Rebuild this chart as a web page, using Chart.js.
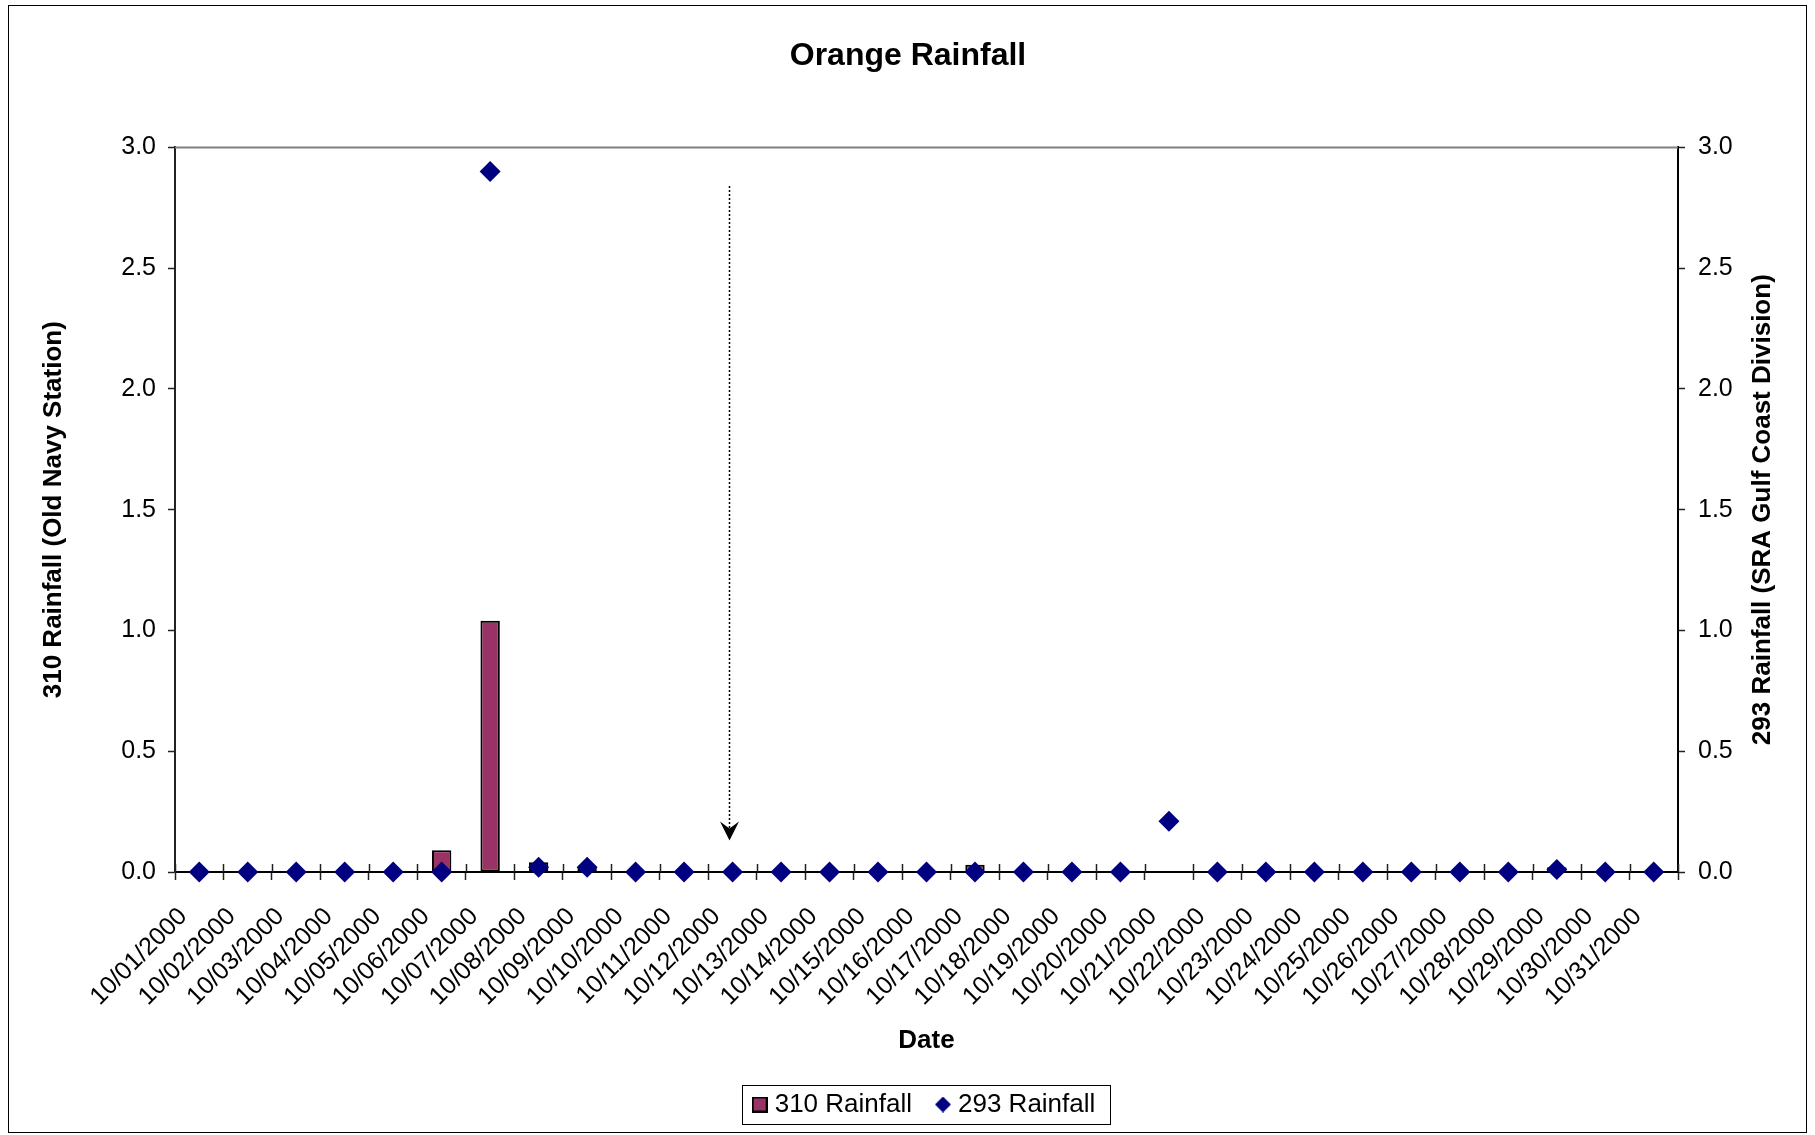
<!DOCTYPE html>
<html lang="en">
<head>
    <meta charset="UTF-8">
    <title>Orange Rainfall</title>
    <style>
        body { margin: 0; background: #fff; }
        canvas { display: block; }
    </style>
</head>
<body>
    <canvas id="grafico" width="1815" height="1135"></canvas>

    <script src="https://cdn.jsdelivr.net/npm/chart.js"></script>
    <script>
        // dati
        const dates = ['10/01/2000', '10/02/2000', '10/03/2000', '10/04/2000', '10/05/2000', '10/06/2000',
            '10/07/2000', '10/08/2000', '10/09/2000', '10/10/2000', '10/11/2000', '10/12/2000',
            '10/13/2000', '10/14/2000', '10/15/2000', '10/16/2000', '10/17/2000', '10/18/2000',
            '10/19/2000', '10/20/2000', '10/21/2000', '10/22/2000', '10/23/2000', '10/24/2000',
            '10/25/2000', '10/26/2000', '10/27/2000', '10/28/2000', '10/29/2000', '10/30/2000', '10/31/2000'];
        const rain310 = [0, 0, 0, 0, 0, 0.09, 1.04, 0.04, 0.02, 0, 0, 0, 0, 0, 0, 0,
            0.03, 0, 0, 0, 0, 0, 0, 0, 0, 0, 0, 0, 0.02, 0, 0];
        const rain293 = [0, 0, 0, 0, 0, 0, 2.90, 0.02, 0.02, 0, 0, 0, 0, 0, 0, 0,
            0, 0, 0, 0, 0.21, 0, 0, 0, 0, 0, 0, 0, 0.01, 0, 0];
        const yMin = 0, yMax = 3.0, yStep = 0.5;
        // freccia tratteggiata (data, spostamento in categorie, valore alto, valore punta)
        const arrowDate = '10/12/2000';
        const arrowShift = -0.07;
        const arrowFrom = 2.84;
        const arrowTo = 0.13;

        const FONT = '"Liberation Sans", Arial, sans-serif';

        // marcatori della legenda
        function makeSquare() {
            const c = document.createElement('canvas');
            c.width = 16; c.height = 16;
            const g = c.getContext('2d');
            g.fillStyle = '#000';
            g.fillRect(0, 0, 16, 16);
            g.fillStyle = '#993366';
            g.fillRect(2, 2, 12, 12);
            return c;
        }
        function makeDiamond() {
            const c = document.createElement('canvas');
            c.width = 16; c.height = 16;
            const g = c.getContext('2d');
            g.fillStyle = '#000080';
            g.beginPath();
            g.moveTo(8, 0); g.lineTo(16, 8); g.lineTo(8, 16); g.lineTo(0, 8);
            g.closePath();
            g.fill();
            return c;
        }
        const legendIcons = [makeSquare(), makeDiamond()];

        const extras = {
            id: 'extras',
            beforeDatasetsDraw(chart) {
                const {ctx, chartArea} = chart;
                ctx.save();
                ctx.strokeStyle = '#808080';
                ctx.lineWidth = 2;
                ctx.beginPath();
                ctx.moveTo(chartArea.left, chartArea.top);
                ctx.lineTo(chartArea.right, chartArea.top);
                ctx.stroke();
                ctx.restore();
            },
            afterDraw(chart) {
                const {ctx, chartArea} = chart;
                const xs = chart.scales.x;
                const ys = chart.scales.y;
                const y1 = chart.scales.y1;
                ctx.save();

                // cornice esterna
                ctx.strokeStyle = '#000';
                ctx.lineWidth = 1;
                ctx.strokeRect(8.5, 5.5, 1798, 1127);

                // tacche verso l'interno sull'asse x
                const step = xs.getPixelForValue(1) - xs.getPixelForValue(0);
                ctx.strokeStyle = '#222';
                ctx.lineWidth = 1.5;
                ctx.beginPath();
                for (let i = 0; i <= dates.length; i++) {
                    const x = Math.round(xs.getPixelForValue(0) - step / 2 + i * step) + 0.5;
                    ctx.moveTo(x, chartArea.bottom - 8);
                    ctx.lineTo(x, chartArea.bottom);
                }
                ctx.stroke();

                // freccia
                const ax = Math.round(xs.getPixelForValue(dates.indexOf(arrowDate)) + arrowShift * step) + 0.5;
                const aTop = ys.getPixelForValue(arrowFrom);
                const aTip = ys.getPixelForValue(arrowTo);
                ctx.strokeStyle = '#000';
                ctx.lineWidth = 1.5;
                ctx.setLineDash([2, 2]);
                ctx.beginPath();
                ctx.moveTo(ax, aTop);
                ctx.lineTo(ax, aTip - 10);
                ctx.stroke();
                ctx.setLineDash([]);
                ctx.fillStyle = '#000';
                ctx.beginPath();
                ctx.moveTo(ax, aTip);
                ctx.lineTo(ax - 9.5, aTip - 19);
                ctx.lineTo(ax, aTip - 12);
                ctx.lineTo(ax + 9.5, aTip - 19);
                ctx.closePath();
                ctx.fill();

                // titolo asse destro (ruotato come quello sinistro)
                ctx.fillStyle = '#000';
                ctx.font = 'bold 26px ' + FONT;
                ctx.textAlign = 'center';
                ctx.textBaseline = 'middle';
                ctx.translate(y1.right - 4 - 15.6, (chartArea.top + chartArea.bottom) / 2);
                ctx.rotate(-Math.PI / 2);
                ctx.fillText('293 Rainfall (SRA Gulf Coast Division)', 0, 0);
                ctx.setTransform(1, 0, 0, 1, 0, 0);

                // cornice della legenda
                const hb = chart.legend.legendHitBoxes;
                if (hb && hb.length) {
                    const first = hb[0], last = hb[hb.length - 1];
                    const cy = first.top + first.height / 2;
                    const left = first.left - 16;
                    const right = last.left + last.width + 14;
                    ctx.strokeStyle = '#000';
                    ctx.lineWidth = 1;
                    ctx.strokeRect(Math.round(left) + 0.5, Math.round(cy - 19.5) + 0.5, Math.round(right - left), 39);
                }
                ctx.restore();
            }
        };

        const ctx = document.getElementById('grafico').getContext('2d');
        const grafico = new Chart(ctx, {
            data: {
                labels: dates,
                datasets: [{
                    type: 'bar',
                    label: '310 Rainfall',
                    data: rain310,
                    yAxisID: 'y',
                    backgroundColor: '#993366',
                    borderColor: '#000',
                    borderWidth: 2,
                    borderSkipped: false,
                    barPercentage: 0.4,
                    categoryPercentage: 1.0,
                    order: 2
                }, {
                    type: 'line',
                    label: '293 Rainfall',
                    data: rain293,
                    yAxisID: 'y1',
                    showLine: false,
                    pointStyle: 'rectRot',
                    pointRadius: 10.5,
                    pointBackgroundColor: '#000080',
                    pointBorderColor: '#000080',
                    pointBorderWidth: 0,
                    clip: false,
                    order: 1
                }]
            },
            options: {
                responsive: false,
                animation: false,
                layout: {
                    padding: {left: 34, right: 33, top: 0, bottom: 7.5}
                },
                plugins: {
                    title: {
                        display: true,
                        text: 'Orange Rainfall',
                        color: '#000',
                        font: {family: FONT, size: 32, weight: 'bold'},
                        padding: {top: 37, bottom: 72}
                    },
                    legend: {
                        position: 'bottom',
                        fullSize: false,
                        labels: {
                            color: '#000',
                            font: {family: FONT, size: 26},
                            padding: 29,
                            usePointStyle: true,
                            pointStyleWidth: 4,
                            sort: (a, b) => a.datasetIndex - b.datasetIndex,
                            generateLabels: (chart) => chart.data.datasets.map((ds, i) => ({
                                text: ds.label,
                                pointStyle: legendIcons[i],
                                fillStyle: 'transparent',
                                strokeStyle: 'transparent',
                                lineWidth: 0,
                                fontColor: '#000',
                                datasetIndex: i,
                                hidden: false
                            }))
                        }
                    },
                    tooltip: {enabled: false}
                },
                scales: {
                    x: {
                        offset: true,
                        grid: {
                            display: true,
                            offset: true,
                            drawOnChartArea: false,
                            tickLength: 8,
                            tickColor: '#222',
                            tickWidth: 1.5
                        },
                        border: {color: '#000', width: 2},
                        ticks: {
                            color: '#000',
                            font: {family: FONT, size: 25},
                            minRotation: 45,
                            maxRotation: 45,
                            autoSkip: false,
                            padding: 22,
                            labelOffset: -16
                        },
                        title: {
                            display: true,
                            text: 'Date',
                            color: '#000',
                            font: {family: FONT, size: 26, weight: 'bold'},
                            padding: {top: 4, bottom: 6}
                        },
                        afterFit: (scale) => { scale.height = 190.5; }
                    },
                    y: {
                        position: 'left',
                        min: yMin,
                        max: yMax,
                        grid: {
                            display: true,
                            drawOnChartArea: false,
                            tickLength: 7,
                            tickColor: '#222',
                            tickWidth: 1.5
                        },
                        border: {color: '#222', width: 2},
                        ticks: {
                            stepSize: yStep,
                            color: '#000',
                            font: {family: FONT, size: 25},
                            padding: 12,
                            callback: (v) => v.toFixed(1)
                        },
                        title: {
                            display: true,
                            text: '310 Rainfall (Old Navy Station)',
                            color: '#000',
                            font: {family: FONT, size: 26, weight: 'bold'},
                            padding: {top: 4, bottom: 4}
                        },
                        afterFit: (scale) => { scale.width = 141; }
                    },
                    y1: {
                        position: 'right',
                        min: yMin,
                        max: yMax,
                        grid: {
                            display: true,
                            drawOnChartArea: false,
                            tickLength: 7,
                            tickColor: '#222',
                            tickWidth: 1.5
                        },
                        border: {color: '#000', width: 2},
                        ticks: {
                            stepSize: yStep,
                            color: '#000',
                            font: {family: FONT, size: 25},
                            padding: 13,
                            callback: (v) => v.toFixed(1)
                        },
                        afterFit: (scale) => { scale.width = 104; }
                    }
                }
            },
            plugins: [extras]
        });
    </script>
</body>
</html>
